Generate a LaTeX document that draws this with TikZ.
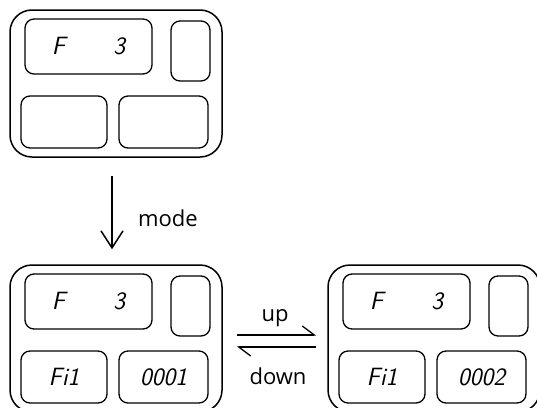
\documentclass[tikz,border=0pt]{standalone}
\usepackage{fontspec}
\newfontfamily\labelfont{Open Sans}
\usetikzlibrary{arrows.meta}

\tikzset{
  device/.style={draw, line width=1.5pt, rounded corners=22pt, minimum width=212pt, minimum height=147pt},
  panel/.style={draw, line width=1.3pt, rounded corners=9pt, inner sep=0pt, font=\fontsize{25}{25}\selectfont\sffamily\itshape},
  disp/.style={panel, minimum width=127pt, minimum height=55pt},
  key/.style={panel, minimum width=39pt, minimum height=60pt},
  lbox/.style={panel, minimum width=86pt, minimum height=52pt},
  rbox/.style={panel, minimum width=89pt, minimum height=52pt},
  lbl/.style={font=\fontsize{22}{22}\selectfont\labelfont}
}

\begin{document}
\begin{tikzpicture}[x=1pt, y=-1pt]
        \useasboundingbox (0,0) rectangle (537,407);

        \node[device] at (116, 83.5)  (top)    {};
        \node[disp] at ([shift={(-27.5,-37)}]top.center)  (topdisp)  {F\hspace{48pt}3};
        \node[key]  at ([shift={(74.5,-32.5)}]top.center)  (topkey)   {};
        \node[lbox] at ([shift={(-52,38.5)}]top.center)   (topleft)  {};
        \node[rbox] at ([shift={(47.5,38.5)}]top.center)  (topright) {};

        \node[device] at (116, 338.5)  (mid)    {};
        \node[disp] at ([shift={(-27.5,-37)}]mid.center)  (middisp)  {F\hspace{48pt}3};
        \node[key]  at ([shift={(74.5,-32.5)}]mid.center)  (midkey)   {};
        \node[lbox] at ([shift={(-52,38.5)}]mid.center)   (midleft)  {Fi1};
        \node[rbox] at ([shift={(47.5,38.5)}]mid.center)  (midright) {0001};

        \node[device] at (434, 338.5)  (right)    {};
        \node[disp] at ([shift={(-27.5,-37)}]right.center)  (rightdisp)  {F\hspace{48pt}3};
        \node[key]  at ([shift={(74.5,-32.5)}]right.center)  (rightkey)   {};
        \node[lbox] at ([shift={(-52,38.5)}]right.center)   (rightleft)  {Fi1};
        \node[rbox] at ([shift={(47.5,38.5)}]right.center)  (rightright) {0002};

        % mode
        \draw[-{Straight Barb[length=17pt, width=22pt]}, line width=1.5pt, shorten <=18pt, shorten >=15pt]
              ([xshift=-4pt]top.south) -- ([xshift=-4pt]mid.north)
              node[lbl, pos=0.57, right=22pt] {mode};

        % up / down
        \draw[-{Straight Barb[left, length=12pt, width=18pt]}, line width=1.3pt, shorten <=14pt, shorten >=11pt]
              ([yshift=3.5pt]mid.east) -- ([yshift=3.5pt]right.west)
              node[lbl, midway, above=4pt] {up};
        \draw[-{Straight Barb[left, length=12pt, width=18pt]}, line width=1.3pt, shorten <=11pt, shorten >=14pt]
              ([yshift=-8.5pt]right.west) -- ([yshift=-8.5pt]mid.east)
              node[lbl, midway, below=17pt, xshift=3pt] {down};
      \end{tikzpicture}
\end{document}
